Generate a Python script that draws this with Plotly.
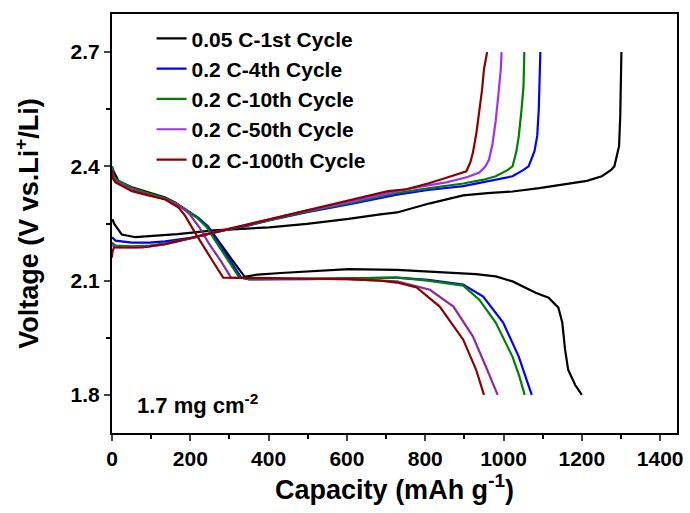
import plotly.graph_objects as go

# ---------------- data ----------------
names = ["0.05 C-1st Cycle", "0.2 C-4th Cycle", "0.2 C-10th Cycle", "0.2 C-50th Cycle", "0.2 C-100th Cycle"]

# 1st cycle (0.05 C)
c1_dis_cap = [0, 1, 5, 17, 51, 93, 136, 161, 194, 219, 245, 270, 303, 339, 372, 431, 500, 604, 728, 807, 854, 929, 980, 1023, 1082, 1115, 1140, 1150, 1157, 1165, 1183, 1200]
c1_dis_v = [2.40, 2.395, 2.385, 2.361, 2.345, 2.331, 2.318, 2.305, 2.282, 2.265, 2.242, 2.208, 2.16, 2.11, 2.116, 2.12, 2.124, 2.13, 2.128, 2.124, 2.121, 2.117, 2.111, 2.098, 2.068, 2.055, 2.029, 1.99, 1.92, 1.866, 1.826, 1.80]
c1_chg_cap = [0, 2, 5, 12, 25, 60, 93, 121, 167, 205, 259, 331, 401, 498, 604, 685, 728, 812, 897, 959, 1023, 1091, 1150, 1213, 1251, 1274, 1283, 1290, 1295, 1298, 1299, 1301]
c1_chg_v = [2.255, 2.26, 2.25, 2.24, 2.221, 2.214, 2.216, 2.218, 2.222, 2.226, 2.232, 2.236, 2.24, 2.249, 2.262, 2.274, 2.279, 2.303, 2.324, 2.33, 2.334, 2.343, 2.353, 2.362, 2.374, 2.39, 2.40, 2.43, 2.453, 2.53, 2.61, 2.70]

# 4th cycle (0.2 C)
c4_dis_cap = [0, 2, 9, 51, 93, 136, 161, 194, 219, 245, 270, 299, 330, 350, 401, 502, 604, 728, 807, 897, 948, 999, 1039, 1060, 1072]
c4_dis_v = [2.40, 2.38, 2.365, 2.342, 2.328, 2.315, 2.303, 2.283, 2.266, 2.242, 2.202, 2.155, 2.108, 2.103, 2.103, 2.104, 2.106, 2.108, 2.102, 2.09, 2.058, 1.99, 1.90, 1.84, 1.80]
c4_chg_cap = [0, 2, 9, 51, 96, 136, 205, 273, 350, 401, 498, 604, 728, 807, 897, 959, 1023, 1050, 1064, 1079, 1086, 1090, 1092, 1094]
c4_chg_v = [2.21, 2.212, 2.205, 2.20, 2.20, 2.203, 2.213, 2.229, 2.245, 2.258, 2.28, 2.30, 2.326, 2.338, 2.348, 2.36, 2.374, 2.39, 2.40, 2.44, 2.48, 2.55, 2.61, 2.70]

# 10th cycle (0.2 C)
c10_dis_cap = [0, 2, 9, 51, 93, 136, 161, 194, 217, 242, 267, 295, 325, 350, 401, 502, 604, 728, 807, 897, 938, 980, 1023, 1040, 1054]
c10_dis_v = [2.40, 2.38, 2.366, 2.343, 2.329, 2.316, 2.304, 2.283, 2.265, 2.24, 2.20, 2.155, 2.108, 2.104, 2.104, 2.105, 2.106, 2.108, 2.10, 2.087, 2.05, 1.99, 1.90, 1.85, 1.80]
c10_chg_cap = [0, 2, 9, 51, 96, 136, 205, 273, 350, 498, 604, 728, 807, 897, 949, 980, 1010, 1023, 1033, 1039, 1046, 1051, 1053]
c10_chg_v = [2.195, 2.198, 2.192, 2.19, 2.192, 2.198, 2.212, 2.229, 2.246, 2.282, 2.303, 2.33, 2.342, 2.355, 2.365, 2.374, 2.39, 2.40, 2.44, 2.48, 2.55, 2.61, 2.70]

# 50th cycle (0.2 C)
c50_dis_cap = [0, 2, 9, 51, 93, 136, 170, 198, 223, 249, 279, 304, 401, 502, 604, 728, 812, 872, 922, 955, 974, 985]
c50_dis_v = [2.395, 2.375, 2.36, 2.34, 2.326, 2.314, 2.298, 2.275, 2.24, 2.195, 2.15, 2.108, 2.105, 2.105, 2.104, 2.098, 2.076, 2.032, 1.953, 1.874, 1.83, 1.80]
c50_chg_cap = [0, 2, 9, 51, 96, 136, 205, 273, 350, 498, 604, 728, 807, 854, 908, 938, 954, 963, 972, 980, 987, 993, 995]
c50_chg_v = [2.19, 2.192, 2.188, 2.187, 2.19, 2.196, 2.212, 2.23, 2.248, 2.284, 2.306, 2.335, 2.35, 2.358, 2.372, 2.384, 2.40, 2.418, 2.46, 2.52, 2.59, 2.655, 2.70]

# 100th cycle (0.2 C)
c100_dis_cap = [0, 1, 9, 51, 93, 136, 170, 187, 212, 238, 261, 284, 401, 502, 604, 685, 728, 778, 837, 897, 930, 950]
c100_dis_v = [2.39, 2.37, 2.358, 2.335, 2.324, 2.313, 2.292, 2.27, 2.226, 2.182, 2.145, 2.108, 2.106, 2.106, 2.104, 2.10, 2.095, 2.082, 2.032, 1.945, 1.866, 1.80]
c100_chg_cap = [0, 1, 5, 27, 78, 136, 205, 273, 350, 498, 604, 705, 751, 807, 854, 905, 915, 922, 931, 938, 945, 950, 958]
c100_chg_v = [2.16, 2.175, 2.187, 2.187, 2.187, 2.196, 2.213, 2.229, 2.248, 2.285, 2.31, 2.335, 2.34, 2.355, 2.37, 2.387, 2.41, 2.437, 2.49, 2.54, 2.60, 2.655, 2.70]

x_ticks = [0, 200, 400, 600, 800, 1000, 1200, 1400]
y_ticks = [1.8, 2.1, 2.4, 2.7]

dis_colors = ["#000000", "#0000FF", "#008000", "#8E2A9E", "#8B0000"]
chg_colors = ["#000000", "#0000FF", "#008000", "#9B30FF", "#8B0000"]

dis = [(c1_dis_cap, c1_dis_v), (c4_dis_cap, c4_dis_v), (c10_dis_cap, c10_dis_v),
       (c50_dis_cap, c50_dis_v), (c100_dis_cap, c100_dis_v)]
chg = [(c1_chg_cap, c1_chg_v), (c4_chg_cap, c4_chg_v), (c10_chg_cap, c10_chg_v),
       (c50_chg_cap, c50_chg_v), (c100_chg_cap, c100_chg_v)]

FONT = "Liberation Sans, Arial, sans-serif"

fig = go.Figure()
for i, name in enumerate(names):
    fig.add_trace(go.Scatter(x=chg[i][0], y=chg[i][1], mode="lines", name=name,
                             legendgroup=name, showlegend=True,
                             line=dict(color=chg_colors[i], width=2.2)))
    fig.add_trace(go.Scatter(x=dis[i][0], y=dis[i][1], mode="lines", name=name,
                             legendgroup=name, showlegend=False,
                             line=dict(color=dis_colors[i], width=2.2)))

fig.update_layout(
    width=690, height=513,
    margin=dict(l=112, r=7, t=14, b=80),
    paper_bgcolor="white", plot_bgcolor="white",
    font=dict(family=FONT, size=21, color="black", weight="bold"),
    showlegend=True,
    legend=dict(x=0.07, y=0.99, xanchor="left", yanchor="top",
                bgcolor="rgba(0,0,0,0)", borderwidth=0,
                font=dict(family=FONT, size=21, color="black", weight="bold"),
                tracegroupgap=0, itemwidth=30),
    annotations=[dict(text="1.7 mg cm<sup>-2</sup>", x=0.04, y=0.031, xref="paper", yref="paper",
                      xanchor="left", yanchor="bottom", showarrow=False,
                      font=dict(family=FONT, size=22, color="black", weight="bold"))],
)

fig.update_xaxes(
    range=[0, 1443], tickvals=x_ticks, ticks="outside", ticklen=6, tickwidth=2,
    showline=True, linewidth=2, linecolor="black", mirror=True, showgrid=False, zeroline=False,
    minor=dict(dtick=100, tick0=0, ticks="outside", ticklen=4, tickwidth=2, tickcolor="black", showgrid=False),
    tickfont=dict(family=FONT, size=21, color="black", weight="bold"),
    title=dict(text="Capacity (mAh g<sup>-1</sup>)", standoff=6,
               font=dict(family=FONT, size=27, color="black", weight="bold")),
)
fig.update_yaxes(
    range=[1.7, 2.8], tickvals=y_ticks, ticks="outside", ticklen=6, tickwidth=2,
    tickformat=".1f",
    showline=True, linewidth=2, linecolor="black", mirror=True, showgrid=False, zeroline=False,
    minor=dict(dtick=0.15, tick0=1.8, ticks="outside", ticklen=4, tickwidth=2, tickcolor="black", showgrid=False),
    tickfont=dict(family=FONT, size=21, color="black", weight="bold"),
    title=dict(text="Voltage (V vs.Li<sup>+</sup>/Li)", standoff=24,
               font=dict(family=FONT, size=27, color="black", weight="bold")),
)

fig.write_html("out.html", config={"displayModeBar": False},
               post_script="document.body.style.margin='0';document.body.style.overflow='hidden';")
